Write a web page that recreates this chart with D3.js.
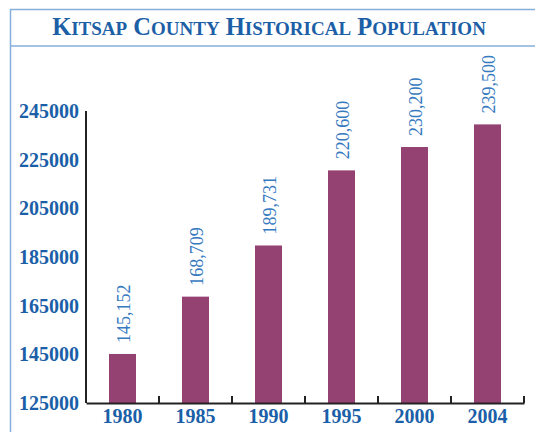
<!DOCTYPE html>
<html>
<head>
<meta charset="utf-8">
<script src="https://cdn.jsdelivr.net/npm/d3@7"></script>
<style>
  body { margin: 0; background: #fff; }
  svg { display: block; }
</style>
</head>
<body>
<div id="chart"></div>
<script>
var years = ["1980", "1985", "1990", "1995", "2000", "2004"];
var population = [145152, 168709, 189731, 220600, 230200, 239500];
var yTicks = [125000, 145000, 165000, 185000, 205000, 225000, 245000];
var titleWords = ["Kitsap", "County", "Historical", "Population"];

var width = 535, height = 432,
    margin = {top: 111, right: 11, bottom: 29, left: 86},
    plotW = width - margin.left - margin.right,
    plotH = height - margin.top - margin.bottom,
    barColor = "#944272",
    labelBlue = "#3579bf",
    tickBlue = "#1b5fa8",
    frameBlue = "#86aedb";

var svg = d3.select("#chart").append("svg")
    .attr("width", width)
    .attr("height", height);

// frame round the chart, open at right and bottom
svg.append("path")
    .attr("d", "M10.5," + height + "V9.5H" + width)
    .attr("fill", "none")
    .attr("stroke", frameBlue)
    .attr("stroke-width", 1.5);
svg.append("line")
    .attr("x1", 10).attr("x2", width)
    .attr("y1", 46).attr("y2", 46)
    .attr("stroke", frameBlue)
    .attr("stroke-width", 1.5);

// title in small caps
var title = svg.append("text")
    .attr("x", 269)
    .attr("y", 35)
    .attr("text-anchor", "middle")
    .style("font-family", "'Liberation Serif', serif")
    .style("font-weight", "bold")
    .attr("fill", "#1c5fa6");
titleWords.forEach(function (w, i) {
    title.append("tspan")
        .style("font-size", "24.5px")
        .text((i > 0 ? " " : "") + w.charAt(0).toUpperCase());
    title.append("tspan")
        .style("font-size", "19px")
        .text(w.slice(1).toUpperCase());
});

var g = svg.append("g")
    .attr("transform", "translate(" + margin.left + "," + margin.top + ")");

var x = d3.scaleBand()
    .domain(years)
    .range([0, plotW])
    .paddingInner(0.63)
    .paddingOuter(0.315);

var y = d3.scaleLinear()
    .domain([125000, 245000])
    .range([plotH, 0]);

g.selectAll(".bar")
    .data(population)
    .enter().append("rect")
    .attr("class", "bar")
    .attr("x", function (d, i) { return x(years[i]); })
    .attr("y", function (d) { return y(d); })
    .attr("width", x.bandwidth())
    .attr("height", function (d) { return plotH - y(d); })
    .attr("fill", barColor);

g.selectAll(".value")
    .data(population)
    .enter().append("text")
    .attr("class", "value")
    .attr("transform", function (d, i) {
        var cx = x(years[i]) + x.bandwidth() / 2 + 7.5;
        return "translate(" + cx + "," + (y(d) - 11) + ") rotate(-90)";
    })
    .style("font-family", "'Liberation Serif', serif")
    .style("font-size", "18px")
    .attr("fill", labelBlue)
    .text(function (d) { return d3.format(",")(d); });

// y axis: line only, bold labels
var yAxis = g.append("g")
    .call(d3.axisLeft(y).tickValues(yTicks).tickSize(0).tickPadding(7).tickFormat(d3.format("d")));
yAxis.select(".domain").remove();
yAxis.selectAll("text")
    .style("font-family", "'Liberation Serif', serif")
    .style("font-size", "20px")
    .style("font-weight", "bold")
    .attr("fill", tickBlue);

g.append("line")
    .attr("x1", 0).attr("x2", 0)
    .attr("y1", 0).attr("y2", plotH)
    .attr("stroke", "#222")
    .attr("stroke-width", 2);

// x axis with upward ticks between bands
var step = x.step();
var xAxis = g.append("g")
    .attr("transform", "translate(0," + plotH + ")")
    .call(d3.axisBottom(x).tickSize(0).tickPadding(6));
xAxis.select(".domain")
    .attr("stroke", "#222")
    .attr("stroke-width", 2);
xAxis.selectAll("text")
    .style("font-family", "'Liberation Serif', serif")
    .style("font-size", "20px")
    .style("font-weight", "bold")
    .attr("fill", tickBlue);

xAxis.selectAll(".sep")
    .data(years)
    .enter().append("line")
    .attr("class", "sep")
    .attr("x1", function (d, i) { return (i + 1) * step; })
    .attr("x2", function (d, i) { return (i + 1) * step; })
    .attr("y1", 0).attr("y2", -7)
    .attr("stroke", "#222")
    .attr("stroke-width", 2);
</script>
</body>
</html>
